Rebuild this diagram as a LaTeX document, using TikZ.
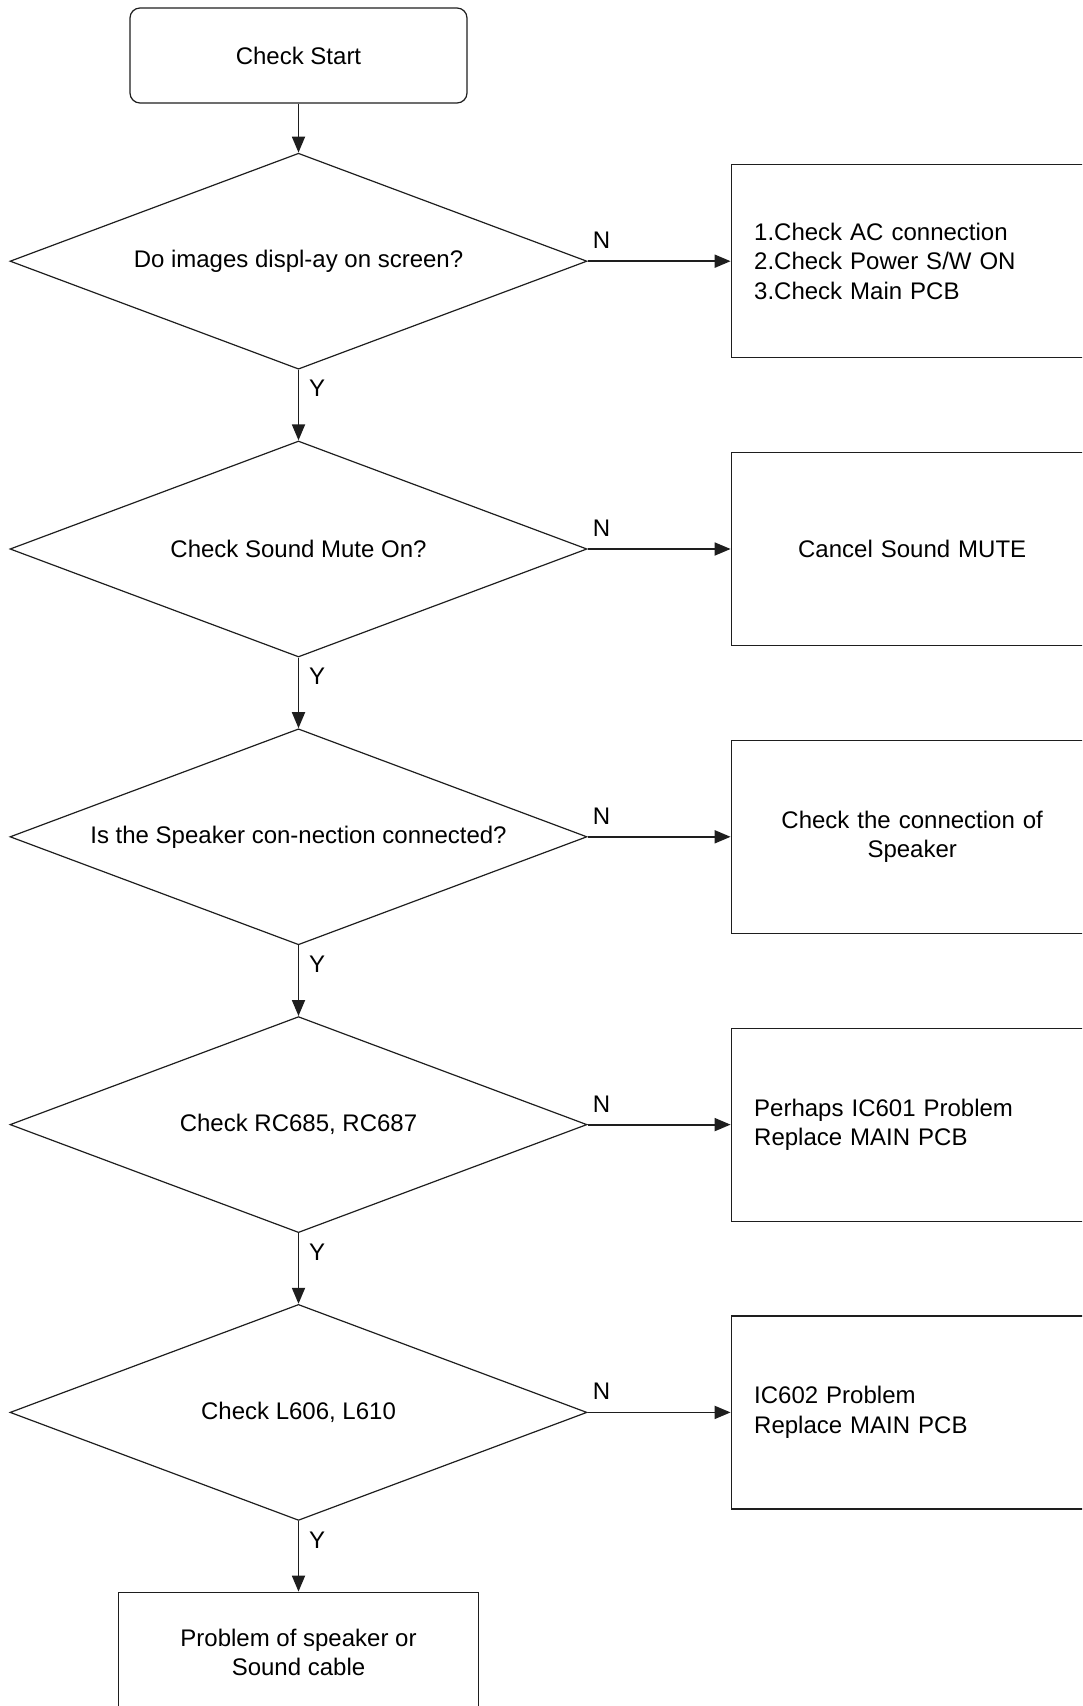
\documentclass[tikz,border=0pt]{standalone}
\usepackage{fontspec}
\setmainfont{Liberation Sans}
\usetikzlibrary{shapes.geometric, arrows.meta, positioning}
\definecolor{linegray}{RGB}{30, 30, 30}

\begin{document}
\begin{tikzpicture}[
  node distance=35.3pt and 71.5pt,
  font=\fontsize{12}{14.7}\selectfont,
  startbox/.style={rectangle, draw=linegray, line width=0.6pt, rounded corners=5pt,
              minimum width=168.5pt, minimum height=47.5pt, align=center},
  decision/.style={diamond, aspect=2.67, draw=linegray, line width=0.6pt, inner sep=0pt,
              minimum width=288.5pt, minimum height=108pt, align=center},
  fixbox/.style={rectangle, draw=linegray, line width=0.6pt,
              minimum width=181pt, minimum height=96.5pt, inner sep=11.5pt,
              text width=158pt},
  endbox/.style={rectangle, draw=linegray, line width=0.6pt,
              minimum width=180pt, minimum height=60pt, align=center},
  arrow/.style={-{Triangle[length=8pt, width=6.5pt]}, line width=0.9pt, draw=linegray},
  yes/.style={anchor=north west, inner sep=0pt, xshift=4.8pt, yshift=-4.8pt},
  no/.style={anchor=south, inner sep=0pt, xshift=7pt, yshift=5.8pt},
]
  \useasboundingbox (0,0) rectangle (541pt,-853pt);
  \clip (0,0) rectangle (541pt,-853pt);

  % Start
  \node[startbox] (start) at (149.25pt,-27.75pt) {Check Start};

  % Decisions down the left
  \node[decision, below=24.5pt of start] (images) {Do images displ-ay on screen?};
  \node[decision, below=of images] (mute) {Check Sound Mute On?};
  \node[decision, below=of mute] (spk) {Is the Speaker con-nection connected?};
  \node[decision, below=of spk] (rc) {Check RC685, RC687};
  \node[decision, below=of rc] (coil) {Check L606, L610};

  % Remedies on the right
  \node[fixbox, align=left, right=of images] (fixpower)
    {1.Check AC connection\\2.Check Power S/W ON\\3.Check Main PCB};
  \node[fixbox, align=center, right=of mute] (fixmute) {Cancel Sound MUTE};
  \node[fixbox, align=center, right=of spk] (fixspk) {Check the connection of\\Speaker};
  \node[fixbox, align=left, right=of rc] (fixic1) {Perhaps IC601 Problem\\Replace MAIN PCB};
  \node[fixbox, align=left, right=of coil] (fixic2) {IC602 Problem\\Replace MAIN PCB};

  % End
  \node[endbox, below=of coil] (cable) {Problem of speaker or\\Sound cable};

  % Arrows: Y chain
  \draw[arrow] (start) -- (images);
  \draw[arrow] (images) -- (mute) node[yes, pos=0]{Y};
  \draw[arrow] (mute) -- (spk) node[yes, pos=0]{Y};
  \draw[arrow] (spk) -- (rc) node[yes, pos=0]{Y};
  \draw[arrow] (rc) -- (coil) node[yes, pos=0]{Y};
  \draw[arrow] (coil) -- (cable) node[yes, pos=0]{Y};

  % Arrows: N branches
  \draw[arrow] (images.east) -- (fixpower.west) node[no, pos=0]{N};
  \draw[arrow] (mute.east) -- (fixmute.west) node[no, pos=0]{N};
  \draw[arrow] (spk.east) -- (fixspk.west) node[no, pos=0]{N};
  \draw[arrow] (rc.east) -- (fixic1.west) node[no, pos=0]{N};
  \draw[arrow] (coil.east) -- (fixic2.west) node[no, pos=0]{N};
\end{tikzpicture}
\end{document}
